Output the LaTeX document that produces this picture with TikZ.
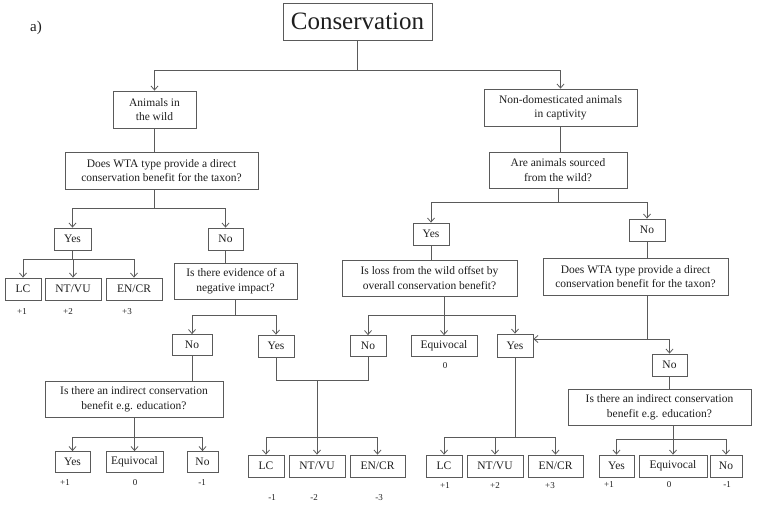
\documentclass[tikz,border=0pt]{standalone}
\usepackage{fontspec}
\setmainfont{Liberation Serif}
\usepackage{tikz}
\usetikzlibrary{arrows.meta}
\definecolor{linegray}{HTML}{5A5A5A}
\definecolor{textgray}{HTML}{1E1E1E}

\begin{document}
\begin{tikzpicture}[x=1pt,y=-1pt,
  box/.style={draw=linegray, line width=0.8pt, align=center, inner sep=1pt,
    text=textgray, font=\fontsize{11.5}{14.5}\selectfont, minimum height=22pt},
  qbox/.style={box, minimum height=37pt},
  score/.style={text=textgray, font=\fontsize{9}{10}\selectfont, inner sep=0pt},
  line/.style={draw=linegray, line width=0.8pt},
  arr/.style={line, -{Straight Barb[length=4pt,width=7pt]}}]
\useasboundingbox (0,0) rectangle (759,506);

\node[text=textgray, font=\fontsize{15}{17}\selectfont] (tag) at (36,28) {a)};
\node[box, font=\fontsize{25}{28}\selectfont, minimum width=149pt, minimum height=37pt] (cons) at (357.5,21.5) {Conservation};

% animals in the wild
\node[qbox, minimum width=83pt] (wild) at (154.5,109.5) {Animals in\\the wild};
\node[qbox, minimum width=193pt] (q1) at (161.5,170.5) {Does WTA type provide a direct\\conservation benefit for the taxon?};
\node[box, minimum width=37pt] (yes1) at (72.5,239) {Yes};
\node[box, minimum width=35pt] (no1) at (225.5,239) {No};
\node[box, minimum width=36pt] (lc1) at (23,289) {LC};
\node[box, minimum width=56pt] (ntvu1) at (73,289) {NT/VU};
\node[box, minimum width=56pt] (encr1) at (134,289) {EN/CR};
\node[score] (s11) at (22,312) {+1};
\node[score] (s12) at (68,312) {+2};
\node[score] (s13) at (127,312) {+3};

\node[qbox, minimum width=123pt, minimum height=36pt] (q2) at (235.5,281) {Is there evidence of a\\negative impact?};
\node[box, minimum width=40pt, minimum height=21pt] (no2) at (192,345) {No};
\node[box, minimum width=36pt] (yes2) at (276,346) {Yes};
\node[qbox, minimum width=178pt, minimum height=36pt] (q3) at (134,399) {Is there an indirect conservation\\benefit e.g. education?};
\node[box, minimum width=35pt, minimum height=21pt] (yes3) at (72.5,462) {Yes};
\node[box, minimum width=57pt, minimum height=21pt] (equi3) at (134.5,462) {Equivocal};
\node[box, minimum width=31pt, minimum height=21pt] (no3) at (202.5,462) {No};
\node[score] (s31) at (65,483) {+1};
\node[score] (s32) at (135,483) {0};
\node[score] (s33) at (202,483) {-1};

\node[box, minimum width=36pt] (lc2) at (266,466) {LC};
\node[box, minimum width=56pt] (ntvu2) at (317,466) {NT/VU};
\node[box, minimum width=55pt] (encr2) at (377.5,466) {EN/CR};
\node[score] (s21) at (272,498) {-1};
\node[score] (s22) at (314,498) {-2};
\node[score] (s23) at (379,498) {-3};

% animals in captivity
\node[qbox, minimum width=153pt] (nondom) at (560.5,107.5) {Non-domesticated animals\\in captivity};
\node[qbox, minimum width=138pt, minimum height=36pt] (qsrc) at (558,170) {Are animals sourced\\from the wild?};
\node[box, minimum width=36pt] (yesA) at (431,234) {Yes};
\node[box, minimum width=36pt] (noA) at (647,230) {No};
\node[qbox, minimum width=175pt, minimum height=36pt] (q4) at (429.5,278) {Is loss from the wild offset by\\overall conservation benefit?};
\node[box, minimum width=36pt, minimum height=21pt] (no4) at (368,346) {No};
\node[box, minimum width=66pt, minimum height=21pt] (equi4) at (444,346) {Equivocal};
\node[score] (s40) at (445,366) {0};
\node[box, minimum width=36pt, minimum height=23pt] (yesB) at (515,345.5) {Yes};
\node[box, minimum width=36pt] (lc3) at (444,466) {LC};
\node[box, minimum width=56pt] (ntvu3) at (495,466) {NT/VU};
\node[box, minimum width=55pt] (encr3) at (555.5,466) {EN/CR};
\node[score] (s41) at (445,486) {+1};
\node[score] (s42) at (495,486) {+2};
\node[score] (s43) at (550,486) {+3};

\node[qbox, minimum width=185pt] (q5) at (635.5,276.5) {Does WTA type provide a direct\\conservation benefit for the taxon?};
\node[box, minimum width=35pt] (noB) at (669.5,365) {No};
\node[qbox, minimum width=183pt, minimum height=36pt] (q6) at (659.5,407) {Is there an indirect conservation\\benefit e.g. education?};
\node[box, minimum width=35pt] (yes5) at (616.5,466) {Yes};
\node[box, minimum width=68pt] (equi5) at (673,466) {Equivocal};
\node[box, minimum width=32pt] (no5) at (726,466) {No};
\node[score] (s51) at (609,485) {+1};
\node[score] (s52) at (669,485) {0};
\node[score] (s53) at (727,485) {-1};

% branch points
\coordinate (j0) at (cons |- 0,70);
\coordinate (j1) at (wild |- 0,208);
\coordinate (j2) at (yes1 |- 0,259);
\coordinate (j3) at (q2 |- 0,315);
\coordinate (j4) at (equi3 |- 0,437);
\coordinate (m1) at (ntvu2 |- 0,380);
\coordinate (j5) at (ntvu2 |- 0,437);
\coordinate (j6) at (qsrc |- 0,202);
\coordinate (j7) at (equi4 |- 0,315);
\coordinate (j8) at (yesB |- 0,437);
\coordinate (j9) at (noA |- 0,339);
\coordinate (j10) at (equi5 |- 0,439);

\draw[line] (cons) -- (j0);
\draw[arr] (j0) -| (wild);
\draw[arr] (j0) -| (nondom);

\draw[line] (wild) -- (wild |- q1.north);
\draw[line] (q1.south -| j1) -- (j1);
\draw[arr] (j1) -| (yes1);
\draw[arr] (j1) -| (no1);
\draw[line] (yes1) -- (j2);
\draw[arr] (j2) -| (lc1);
\draw[arr] (j2) -| (encr1);
\draw[arr] (ntvu1 |- j2) -- (ntvu1);

\draw[line] (no1) -- (no1 |- q2.north);
\draw[line] (q2) -- (j3);
\draw[arr] (j3) -| (no2);
\draw[arr] (j3) -| (yes2);
\draw[line] (no2) -- (no2 |- q3.north);
\draw[line] (q3.south -| j4) -- (j4);
\draw[arr] (j4) -| (yes3);
\draw[arr] (j4) -- (equi3);
\draw[arr] (j4) -| (no3);

\draw[line] (yes2) |- (m1);
\draw[line] (no4) |- (m1);
\draw[line] (m1) -- (j5);
\draw[arr] (j5) -| (lc2);
\draw[arr] (j5) -- (ntvu2);
\draw[arr] (j5) -| (encr2);

\draw[line] (nondom) -- (nondom |- qsrc.north);
\draw[line] (qsrc) -- (j6);
\draw[arr] (j6) -| (yesA);
\draw[arr] (j6) -| (noA);
\draw[line] (yesA) -- (yesA |- q4.north);
\draw[line] (q4.south -| j7) -- (j7);
\draw[arr] (j7) -| (no4);
\draw[arr] (j7) -- (equi4);
\draw[arr] (j7) -| (yesB);
\draw[line] (yesB) -- (j8);
\draw[arr] (j8) -| (lc3);
\draw[arr] (j8) -| (encr3);
\draw[arr] (ntvu3 |- j8) -- (ntvu3);

\draw[line] (noA) -- (noA |- q5.north);
\draw[line] (q5.south -| j9) -- (j9);
\draw[arr] (j9) -- (j9 -| yesB.east);
\draw[arr] (j9) -| (noB);
\draw[line] (noB) -- (noB |- q6.north);
\draw[line] (q6.south -| j10) -- (j10);
\draw[arr] (j10) -| (yes5);
\draw[arr] (j10) -- (equi5);
\draw[arr] (j10) -| (no5);

\end{tikzpicture}
\end{document}
